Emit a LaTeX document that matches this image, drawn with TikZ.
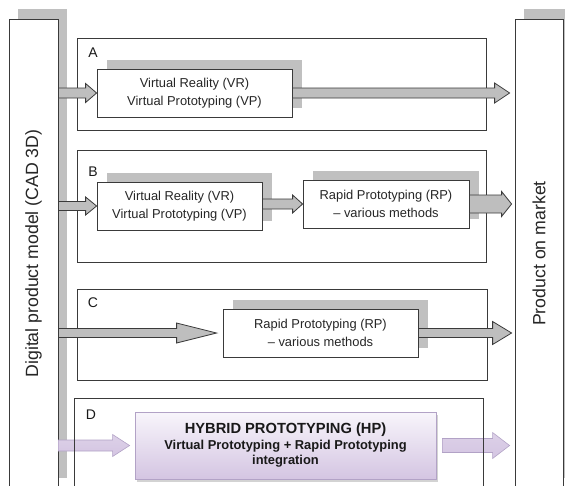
\documentclass[tikz,border=0pt]{standalone}
\usepackage{fontspec}
\setmainfont{Liberation Sans}
\usetikzlibrary{calc,shadows,positioning}

\definecolor{shadowgray}{HTML}{C0C0C0}
\definecolor{linegray}{HTML}{3A3A3A}
\definecolor{arrowgray}{HTML}{BEBEBE}
\definecolor{hpborder}{HTML}{B2A2C6}
\definecolor{hptop}{HTML}{F8F5FB}
\definecolor{hpbottom}{HTML}{D4C5E2}

% fat arrow: [style]{from}{to}{shaft half width}{head half width}{head length}
\newcommand{\fatarrow}[6][]{%
  \path[#1] let \p1 = (#2), \p2 = (#3) in
    (\x1,\y1+#4) -- (\x2-#6,\y1+#4) -- (\x2-#6,\y1+#5) -- (\x2,\y1)
    -- (\x2-#6,\y1-#5) -- (\x2-#6,\y1-#4) -- (\x1,\y1-#4) -- cycle;}

\tikzset{
  column/.style = {draw=linegray, line width=0.8pt, fill=white, inner sep=0pt,
    minimum height=469pt,
    drop shadow={shadow xshift=9pt, shadow yshift=10pt, fill=shadowgray, opacity=1}},
  coltext/.style = {rotate=90, text=black!85, font=\fontsize{17.7}{20}\selectfont},
  panel/.style = {draw=linegray, line width=0.8pt, inner sep=0pt},
  tag/.style = {text=black!90, font=\fontsize{14}{16}\selectfont, inner sep=0pt},
  method/.style = {draw=linegray, line width=0.8pt, fill=white, align=center,
    inner sep=0pt, minimum height=48pt, text=black!85,
    font=\fontsize{12.9}{17.5}\selectfont,
    drop shadow={shadow xshift=9.5pt, shadow yshift=9.5pt, fill=shadowgray, opacity=1}},
  hybrid/.style = {draw=hpborder, line width=0.8pt, top color=hptop, bottom color=hpbottom,
    align=center, inner sep=0pt, minimum width=301pt, minimum height=67pt,
    text=black!90, font=\bfseries\fontsize{12.9}{15.5}\selectfont,
    drop shadow={shadow xshift=2pt, shadow yshift=-2.5pt, opacity=0.35}},
  grayarrow/.style = {draw=linegray, line width=0.8pt, fill=arrowgray},
  purplearrow/.style = {draw=hpborder, line width=0.6pt, top color=hpbottom!80,
    middle color=hptop, bottom color=hpbottom}
}

\begin{document}
\begin{tikzpicture}[x=1pt, y=-1pt]
    \useasboundingbox (0,0) rectangle (565,485);
    \clip (0,0) rectangle (565,485);

    % columns at both sides
    \node[column, minimum width=49pt] (dpm) at (33.5,253.5) {};
    \node[coltext] (dpmtext) at (dpm.center) {Digital product model (CAD 3D)};
    \node[column, minimum width=48pt] (market) at (539,253.5) {};
    \node[coltext] (markettext) at (market.center) {Product on market};

    % panels with their letters
    \node[panel, minimum width=409pt, minimum height=92pt] (pA) at (281.5,84) {};
    \node[panel, minimum width=409pt, minimum height=112pt] (pB) at (281.5,206) {};
    \node[panel, minimum width=410pt, minimum height=91pt] (pC) at (282,334.5) {};
    \node[tag] (tA) at (93,53) {A};
    \node[tag] (tB) at (93,172) {B};
    \node[tag] (tC) at (93,303) {C};
    \node[tag] (tD) at (91,415) {D};

    % A: virtual only
    \node[method, minimum width=195pt] (a1) at (194.5,93)
        {Virtual Reality (VR)\\Virtual Prototyping (VP)};
    \fatarrow[grayarrow]{dpm.east |- a1}{a1.west}{5pt}{9.5pt}{11pt}
    \fatarrow[grayarrow]{a1.east}{$(market.west |- a1)+(-5pt,0)$}{5pt}{10pt}{15pt}

    % B: virtual, then rapid
    \node[method, minimum width=165pt] (b1) at (179.5,206)
        {Virtual Reality (VR)\\Virtual Prototyping (VP)};
    \node[method, minimum width=166pt] (b2) at (386,204)
        {Rapid Prototyping (RP)\\– various methods};
    \fatarrow[grayarrow]{dpm.east |- b1}{b1.west}{4.5pt}{9pt}{11pt}
    \fatarrow[grayarrow]{b1.east |- b2}{b2.west}{5pt}{9pt}{10pt}
    \fatarrow[grayarrow]{b2.east}{$(market.west |- b2)+(-3pt,0)$}{9pt}{12.5pt}{10pt}

    % C: rapid only
    \node[method, minimum width=195pt] (c1) at (320.5,333)
        {Rapid Prototyping (RP)\\– various methods};
    \fatarrow[grayarrow]{dpm.east |- c1}{$(c1.west)+(-6pt,0)$}{4.5pt}{10pt}{40pt}
    \fatarrow[grayarrow]{c1.east}{$(market.west |- c1)+(-3pt,0)$}{4.5pt}{11.5pt}{19pt}

    % D: hybrid prototyping
    \node[hybrid] (hp) at (285.5,445.5)
        {{\fontsize{14.7}{15.5}\selectfont HYBRID PROTOTYPING (HP)}\\
         Virtual Prototyping + Rapid Prototyping\\integration};
    \fatarrow[purplearrow]{dpm.east |- hp}{$(hp.west)+(-5pt,0)$}{5.5pt}{11pt}{17pt}
    \fatarrow[purplearrow]{$(hp.east)+(6pt,0)$}{$(market.west |- hp)+(-5pt,0)$}{7pt}{13pt}{17pt}
    \node[panel, minimum width=409pt, minimum height=102pt] (pD) at (278.5,449) {};
\end{tikzpicture}
\end{document}
